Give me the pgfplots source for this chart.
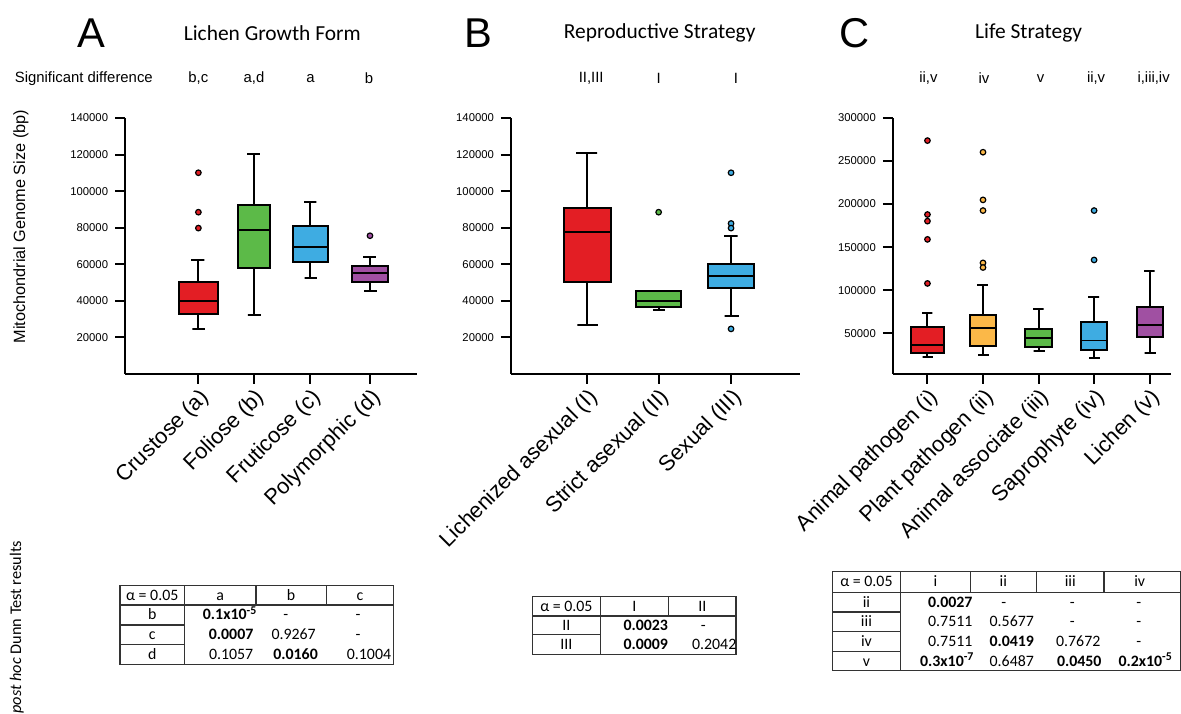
\documentclass[border=0pt]{standalone}
\usepackage{fontspec}
\setmainfont{Liberation Sans}
\newfontfamily\calibri{Carlito}
\usepackage{pgfplots}
\pgfplotsset{compat=1.18}
\definecolor{cred}{RGB}{227,30,36}
\definecolor{cgreen}{RGB}{92,186,72}
\definecolor{cblue}{RGB}{62,172,226}
\definecolor{cpurple}{RGB}{160,80,162}
\definecolor{corange}{RGB}{251,184,72}
\pgfplotsset{
  panel/.style={
    anchor=south west, scale only axis, height=129pt,
    axis x line*=bottom, axis y line*=left,
    axis line style={line width=1pt},
    tick align=outside, major tick length=5pt,
    every tick/.style={black, line width=1pt},
    scaled y ticks=false, clip=false,
    yticklabel style={font=\fontsize{5.7}{7}\selectfont,
      /pgf/number format/.cd, fixed, 1000 sep={}, assume math mode=true},
    xticklabel style={font=\fontsize{11}{13}\selectfont, rotate=45,
      anchor=north east, inner sep=1pt},
  },
}
% box: #1 position, #2 box width, #3 cap width, #4 lower whisker, #5 Q1, #6 median, #7 Q3, #8 upper whisker, #9 colour
\newcommand{\bxp}[9]{%
  \pgfmathsetmacro\bxl{#1-#2/2}\pgfmathsetmacro\bxr{#1+#2/2}%
  \pgfmathsetmacro\cxl{#1-#3/2}\pgfmathsetmacro\cxr{#1+#3/2}%
  \edef\bxcmd{%
    \noexpand\addplot[black, line width=1pt, line cap=rect] coordinates {(\cxl,#8)(\cxr,#8)(#1,#8)(#1,#4)(\cxl,#4)(\cxr,#4)};
    \noexpand\addplot[draw=black, fill=#9, line width=1pt, line cap=rect] coordinates {(\bxl,#5)(\bxr,#5)(\bxr,#7)(\bxl,#7)(\bxl,#5)};
    \noexpand\addplot[black, line width=1pt] coordinates {(\bxl,#6)(\bxr,#6)};
  }\bxcmd}
\newcommand{\outl}[2]{\addplot[only marks, mark=*, mark size=1.4pt, mark options={fill=#1, draw=black, line width=0.6pt}] coordinates {#2};}
\newcommand{\tb}[3]{\node[font=\calibri\fontsize{8}{9}\selectfont, inner sep=0pt, anchor=base] at ({#1},{#2+5}) {#3};}
\begin{document}
\begin{tikzpicture}
\begin{scope}[x=0.5pt, y=-0.5pt]
\useasboundingbox (0,0) rectangle (1181,712);
\clip (0,0) rectangle (1181,712);
\end{scope}
% ---------- Panel A ----------
\begin{axis}[panel, at={(63pt,-188.5pt)}, width=147pt,
  xmin=126, xmax=420, ymin=0, ymax=140000,
  ytick={20000,40000,60000,80000,100000,120000,140000},
  xtick={200,256,313,373},
  xticklabels={Crustose (a),Foliose (b),Fruticose (c),Polymorphic (d)}]
\bxp{200}{39}{12}{24840}{32640}{40080}{50400}{62200}{cred}
\outl{cred}{(200,110080) (200,88500) (200,79800)}
\bxp{256}{32}{12}{32100}{58030}{78890}{92490}{120600}{cgreen}
\bxp{313}{35}{12}{52410}{61480}{69460}{80880}{94300}{cblue}
\bxp{373}{37}{12}{45160}{50230}{55310}{59120}{64200}{cpurple}
\outl{cpurple}{(373,75620)}
\end{axis}
% ---------- Panel B ----------
\begin{axis}[panel, at={(257.5pt,-188.5pt)}, width=146pt,
  xmin=515, xmax=807, ymin=0, ymax=140000,
  ytick={20000,40000,60000,80000,100000,120000,140000},
  xtick={592,664,737},
  xticklabels={Lichenized asexual (I),Strict asexual (II),Sexual (III)}]
\bxp{592}{47}{20}{26660}{50230}{77620}{90670}{120780}{cred}
\bxp{664}{46}{11}{35180}{36630}{40080}{45160}{45160}{cgreen}
\outl{cgreen}{(664,88500)}
\bxp{737}{47}{13}{31920}{46790}{53500}{60030}{75440}{cblue}
\outl{cblue}{(737,110080) (737,82330) (737,79800) (737,24660)}
\end{axis}
% ---------- Panel C ----------
\begin{axis}[panel, at={(450pt,-188.5pt)}, width=140.5pt,
  xmin=900, xmax=1181, ymin=2600, ymax=300000,
  ytick={50000,100000,150000,200000,250000,300000},
  xtick={935,991,1047,1103,1159},
  xticklabels={Animal pathogen (i),Plant pathogen (ii),Animal associate (iii),Saprophyte (iv),Lichen (v)}]
\bxp{935}{34}{10}{22300}{26900}{36100}{57300}{73900}{cred}
\outl{cred}{(935,273800) (935,187900) (935,180200) (935,159000) (935,107800)}
\bxp{991}{26}{10}{24200}{35400}{56200}{71600}{105500}{corange}
\outl{corange}{(991,260300) (991,204900) (991,192500) (991,131700) (991,126300)}
\bxp{1047}{28}{10}{28800}{33400}{44200}{55000}{78500}{cgreen}
\bxp{1103}{26}{10}{21100}{30700}{41500}{63100}{92400}{cblue}
\outl{cblue}{(1103,192500) (1103,135100)}
\bxp{1159}{26}{10}{26900}{46100}{60000}{80800}{122400}{cpurple}
\end{axis}
\begin{scope}[x=0.5pt, y=-0.5pt]
% ---------- Headings ----------
\node[font=\fontsize{21}{24}\selectfont] at (92,33) {A};
\node[font=\fontsize{21}{24}\selectfont] at (482,33) {B};
\node[font=\fontsize{21}{24}\selectfont] at (861,33) {C};
\node[font=\calibri\fontsize{10.8}{13}\selectfont] at (274.5,33) {Lichen Growth Form};
\node[font=\calibri\fontsize{10.8}{13}\selectfont] at (665,33) {Reproductive Strategy};
\node[font=\calibri\fontsize{10.8}{13}\selectfont] at (1037,33) {Life Strategy};
\begin{scope}[every node/.style={font=\fontsize{7.5}{9}\selectfont}]
\node at (84.5,79) {Significant difference};
\node at (200,79) {b,c}; \node at (256,79) {a,d}; \node at (313,79) {a}; \node at (372,79) {b};
\node at (596,79) {II,III}; \node at (664,79) {I}; \node at (742,79) {I};
\node at (936,79) {ii,v}; \node at (992,79) {iv}; \node at (1049,79) {v}; \node at (1105,79) {ii,v}; \node at (1163,79) {i,iii,iv};
\end{scope}
\node[rotate=90, font=\fontsize{8.2}{10}\selectfont] at (21,228.5) {Mitochondrial Genome Size (bp)};
\node[rotate=90, anchor=east, font=\calibri\fontsize{8.2}{10}\selectfont, inner sep=0pt] at (17,545) {\textit{post hoc} Dunn Test results};
% ---------- Table A ----------
\begin{scope}[line width=0.6pt, draw=black!80]
\draw (121,590) rectangle (397,670);
\draw (121,610) -- (397,610);
\draw (186,590) -- (186,670);
\draw (258,590) -- (258,610); \draw (329,590) -- (329,610);
\draw (121,630) -- (186,630); \draw (121,650) -- (186,650);
\end{scope}
\tb{153.5}{600}{α = 0.05} \tb{222}{600}{a} \tb{293.5}{600}{b} \tb{363}{600}{c}
\tb{153.5}{620}{b} \tb{153.5}{640}{c} \tb{153.5}{660}{d}
\tb{232}{620}{\textbf{0.1x10\textsuperscript{-5}}} \tb{288}{620}{-} \tb{361}{620}{-}
\tb{233}{640}{\textbf{0.0007}} \tb{296}{640}{0.9267} \tb{361}{640}{-}
\tb{233}{660}{0.1057} \tb{298}{660}{\textbf{0.0160}} \tb{372}{660}{0.1004}
% ---------- Table B ----------
\begin{scope}[line width=0.6pt, draw=black!80]
\draw (537,601) rectangle (742,660);
\draw (537,621) -- (742,621);
\draw (605,601) -- (605,660);
\draw (674,601) -- (674,621);
\draw (537,640) -- (605,640);
\end{scope}
\tb{571}{611}{α = 0.05} \tb{639.5}{611}{I} \tb{708}{611}{II}
\tb{571}{630.5}{II} \tb{571}{650}{III}
\tb{651}{630.5}{\textbf{0.0023}} \tb{709}{630.5}{-}
\tb{651}{650}{\textbf{0.0009}} \tb{720}{650}{0.2042}
% ---------- Table C ----------
\begin{scope}[line width=0.6pt, draw=black!80]
\draw (839,576) rectangle (1190,676);
\draw (839,597) -- (1190,597);
\draw (908,576) -- (908,676);
\draw (978,576) -- (978,597); \draw (1045,576) -- (1045,597); \draw (1113,576) -- (1113,597);
\draw (839,617) -- (908,617); \draw (839,637) -- (908,637); \draw (839,657) -- (908,657);
\end{scope}
\tb{873.5}{586.5}{α = 0.05} \tb{943}{586.5}{i} \tb{1011.5}{586.5}{ii} \tb{1079}{586.5}{iii} \tb{1149}{586.5}{iv}
\tb{873.5}{607}{ii} \tb{873.5}{627}{iii} \tb{873.5}{647}{iv} \tb{873.5}{666.5}{v}
\tb{958}{607}{\textbf{0.0027}} \tb{1012}{607}{-} \tb{1081}{607}{-} \tb{1148}{607}{-}
\tb{958}{627}{0.7511} \tb{1020}{627}{0.5677} \tb{1081}{627}{-} \tb{1148}{627}{-}
\tb{958}{647}{0.7511} \tb{1020}{647}{\textbf{0.0419}} \tb{1087}{647}{0.7672} \tb{1148}{647}{-}
\tb{955}{666.5}{\textbf{0.3x10\textsuperscript{-7}}} \tb{1020}{666.5}{0.6487} \tb{1088}{666.5}{\textbf{0.0450}} \tb{1155}{666.5}{\textbf{0.2x10\textsuperscript{-5}}}
\end{scope}
\end{tikzpicture}
\end{document}
